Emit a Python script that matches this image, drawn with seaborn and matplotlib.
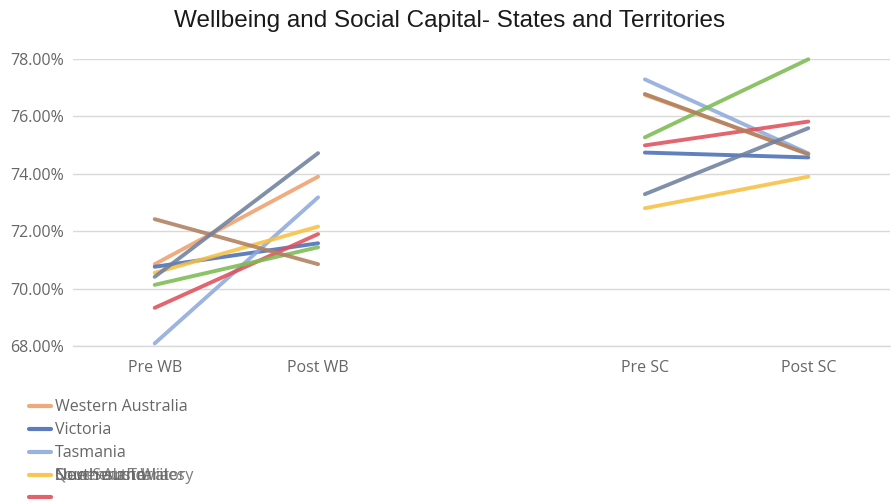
import matplotlib
matplotlib.use("Agg")
import matplotlib.pyplot as plt
from matplotlib.lines import Line2D
from matplotlib.ticker import PercentFormatter
import pandas as pd
import seaborn as sns

# Category slots on the x axis (blank slot separates the two measures)
categories = ["Pre WB", "Post WB", "", "Pre SC", "Post SC"]

states = ["Western Australia", "Victoria", "Tasmania", "South Australia",
          "Queensland", "Northern Territory", "New South Wales",
          "Australian Capital Territory"]

# Wellbeing (%) before / after
pre_wb = [70.85, 70.76, 68.09, 70.55, 69.33, 70.13, 72.42, 70.41]
post_wb = [73.90, 71.58, 73.18, 72.16, 71.90, 71.44, 70.85, 74.72]

# Social capital (%) before / after
pre_sc = [76.75, 74.74, 77.29, 72.80, 74.99, 75.27, 76.78, 73.29]
post_sc = [74.70, 74.57, 74.71, 73.90, 75.82, 77.99, 74.68, 75.59]

colors = ["#EFA06C", "#4A6EB8", "#8EAADB", "#F7C142",
          "#E0505A", "#7CBB52", "#B08060", "#6F819F"]
palette = dict(zip(states, colors))

rows = []
for i, s in enumerate(states):
    rows.append((s, "WB", "Pre WB", pre_wb[i]))
    rows.append((s, "WB", "Post WB", post_wb[i]))
    rows.append((s, "SC", "Pre SC", pre_sc[i]))
    rows.append((s, "SC", "Post SC", post_sc[i]))
df = pd.DataFrame(rows, columns=["state", "measure", "phase", "value"])
df["x"] = df["phase"].map({c: i for i, c in enumerate(categories)})

sns.set_theme(style="white")
plt.rcParams["font.family"] = ["Open Sans", "DejaVu Sans"]

text_gray = "#666666"
grid_gray = "#D9D9D9"

fig = plt.figure(figsize=(8.91, 5.01), dpi=100)
ax = fig.add_axes([73 / 891, 1 - 346 / 501, 817 / 891, 287 / 501])

for measure in ["WB", "SC"]:
    sns.lineplot(data=df[df["measure"] == measure], x="x", y="value",
                 hue="state", hue_order=states, palette=palette,
                 linewidth=2.8, alpha=0.88, legend=False, ax=ax,
                 clip_on=False)

ax.set_xlim(-0.5, 4.5)
ax.set_ylim(68, 78)
ax.set_yticks([68, 70, 72, 74, 76, 78])
ax.yaxis.set_major_formatter(PercentFormatter(xmax=100, decimals=2))
ax.set_xticks([0, 1, 3, 4])
ax.set_xticklabels(["Pre WB", "Post WB", "Pre SC", "Post SC"])
ax.set_xlabel("")
ax.set_ylabel("")
ax.grid(axis="y", color=grid_gray, linewidth=1)
ax.grid(axis="x", visible=False)
ax.set_axisbelow(True)
for side in ["top", "right", "left"]:
    ax.spines[side].set_visible(False)
ax.spines["bottom"].set_color(grid_gray)
ax.spines["bottom"].set_linewidth(1)
ax.tick_params(axis="y", length=0, pad=6.5, labelsize=11.5, labelcolor=text_gray)
ax.tick_params(axis="x", length=0, pad=10, labelsize=11.5, labelcolor=text_gray)

fig.text(0.504, 1 - 21 / 501, "Wellbeing and Social Capital- States and Territories",
         ha="center", va="center", fontsize=17.5, color="#1a1a1a",
         family=["Liberation Sans", "DejaVu Sans"])

# Legend block below the plot; later entries overflow onto the fourth row
def px(x, y):
    return x / 891, 1 - y / 501

legend_rows = [
    (406, ["Western Australia"], states[0]),
    (429, ["Victoria"], states[1]),
    (452, ["Tasmania"], states[2]),
    (475, ["South Australia", "Queensland", "Northern Territory",
           "New South Wales"], states[3]),
    (497, [], states[4]),
]
for y, labels, st in legend_rows:
    (x0, yy), (x1, _) = px(29, y), px(51, y)
    fig.add_artist(Line2D([x0, x1], [yy, yy], color=palette[st],
                          linewidth=3, alpha=0.9, transform=fig.transFigure))
    for lab in labels:
        tx, ty = px(55, y + 1)
        fig.text(tx, ty, lab, ha="left", va="center", fontsize=11.5,
                 color=text_gray, alpha=0.85 if len(labels) > 1 else 1.0)

fig.savefig("out.png", dpi=100, facecolor="white")
